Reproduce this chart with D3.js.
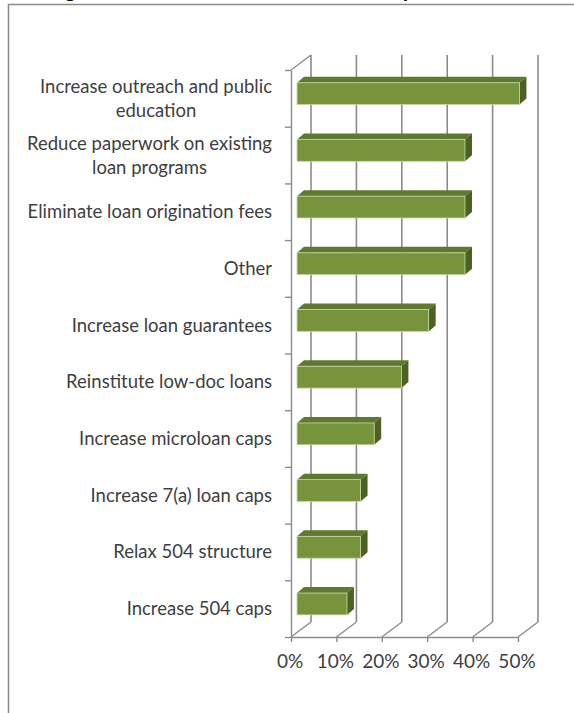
<!DOCTYPE html>
<html>
<head>
<meta charset="utf-8">
<script src="https://cdn.jsdelivr.net/npm/d3@7"></script>
<style>
  html, body { margin: 0; padding: 0; background: #ffffff; }
  svg { display: block; }
  text { font-family: Lato, "Open Sans", sans-serif; fill: #404040; }
</style>
</head>
<body>
<script>
// Survey answers: changes respondents would like to see in SBA lending
const categories = [
  "Increase outreach and public education",
  "Reduce paperwork on existing loan programs",
  "Eliminate loan origination fees",
  "Other",
  "Increase loan guarantees",
  "Reinstitute low-doc loans",
  "Increase microloan caps",
  "Increase 7(a) loan caps",
  "Relax 504 structure",
  "Increase 504 caps"
];
// How each label wraps onto lines
const labelLines = [
  ["Increase outreach and public", "education"],
  ["Reduce paperwork on existing", "loan programs"],
  ["Eliminate loan origination fees"],
  ["Other"],
  ["Increase loan guarantees"],
  ["Reinstitute low-doc loans"],
  ["Increase microloan caps"],
  ["Increase 7(a) loan caps"],
  ["Relax 504 structure"],
  ["Increase 504 caps"]
];
// Share of respondents, percent
const values = [49, 37, 37, 37, 29, 23, 17, 14, 14, 11];
const tickValues = [0, 10, 20, 30, 40, 50];
const titleText = "Changes That Would Boost Bank Participation in SBA Lending";

const W = 574, H = 713;
const svg = d3.select("body").append("svg").attr("width", W).attr("height", H);

// frame around the chart area
svg.append("rect")
  .attr("x", 8.5).attr("y", 4.5).attr("width", 700).attr("height", 800)
  .attr("fill", "none").attr("stroke", "#8a8a8a").attr("stroke-width", 1.5);

// title sits mostly above the visible page
svg.append("text")
  .attr("x", 14).attr("y", -3)
  .style("font-weight", "bold").style("font-size", "22px").style("fill", "#000")
  .text(titleText);

// geometry of the 3-D box
const plotTop = 70, plotBottom = 637;
const depthDx = 20, depthDy = -15;       // front-to-back wall offset
const barShift = 6;                       // bars sit a little behind the front plane
const barDx = 7, barDy = -6;              // thickness of each bar

const x = d3.scaleLinear().domain([0, 50]).range([291, 518]);
const y = d3.scaleBand().domain(categories).range([plotTop, plotBottom]).padding(0);
const bw = y.bandwidth();
const yIdx = d3.scaleLinear().domain([0, categories.length]).range([plotTop, plotBottom]);

const gridColor = "#8c8c8c";

// back wall gridlines
svg.append("g").selectAll("line.grid").data(tickValues).join("line")
  .attr("x1", d => x(d) + depthDx).attr("x2", d => x(d) + depthDx)
  .attr("y1", plotTop + depthDy).attr("y2", plotBottom + depthDy)
  .attr("stroke", gridColor).attr("stroke-width", 1.6);

// floor depth lines
svg.append("g").selectAll("line.floor").data(tickValues).join("line")
  .attr("x1", d => x(d)).attr("x2", d => x(d) + depthDx)
  .attr("y1", plotBottom).attr("y2", plotBottom + depthDy)
  .attr("stroke", gridColor).attr("stroke-width", 1.4);

// top edge of the side wall
svg.append("line")
  .attr("x1", x(0)).attr("x2", x(0) + depthDx)
  .attr("y1", plotTop).attr("y2", plotTop + depthDy)
  .attr("stroke", gridColor).attr("stroke-width", 1.4);

// bars
const bars = svg.append("g").selectAll("g").data(categories).join("g");
const faceTop = c => y(c) + bw * 0.225;
const faceH = bw * 0.385;
const x0 = x(0) + barShift;
const xEnd = (i) => x(values[i]) + barShift;

bars.append("path") // top face
  .attr("d", (c, i) => {
    const t = faceTop(c), e = xEnd(i);
    return `M${x0},${t} L${x0 + barDx},${t + barDy} L${e + barDx},${t + barDy} L${e},${t} Z`;
  })
  .attr("fill", "#5f7a30");

bars.append("path") // side face
  .attr("d", (c, i) => {
    const t = faceTop(c), e = xEnd(i);
    return `M${e},${t} L${e + barDx},${t + barDy} L${e + barDx},${t + barDy + faceH} L${e},${t + faceH} Z`;
  })
  .attr("fill", "#4c6124");

bars.append("rect") // front face
  .attr("x", x0).attr("y", c => faceTop(c))
  .attr("width", (c, i) => xEnd(i) - x0).attr("height", faceH)
  .attr("fill", "#77933c").attr("stroke", "#c9d8a6").attr("stroke-width", 0.8);

// category axis on the front plane
const yAxis = svg.append("g").attr("transform", `translate(${x(0)},0)`)
  .call(d3.axisLeft(yIdx).tickValues(d3.range(categories.length + 1)).tickFormat("").tickSize(6).tickSizeOuter(0));
yAxis.selectAll("path, line").attr("stroke", gridColor).attr("stroke-width", 1.4);

// value axis along the front edge of the floor
const xAxis = svg.append("g").attr("transform", `translate(0,${plotBottom})`)
  .call(d3.axisBottom(x).tickValues(tickValues).tickFormat(d => d + "%").tickSize(5).tickSizeOuter(0).tickPadding(13));
xAxis.selectAll("path, line").attr("stroke", gridColor).attr("stroke-width", 1.4);
xAxis.selectAll("text")
  .attr("dx", -1.5)
  .style("font-size", "19px").style("font-family", "Lato, 'Open Sans', sans-serif").attr("fill", "#404040");

// category labels, right-aligned block with centred lines
const labelRight = 272, lineGap = 24;
const labels = svg.append("g").selectAll("g").data(categories).join("g");
labels.each(function (c, i) {
  const g = d3.select(this);
  const lines = labelLines[i];
  const cy = y(c) + bw / 2;
  const texts = lines.map((ln, k) => g.append("text")
    .attr("y", cy + (k - (lines.length - 1) / 2) * lineGap)
    .attr("dy", "0.35em")
    .style("font-size", "18.5px")
    .text(ln));
  const maxW = d3.max(texts, t => t.node().getComputedTextLength());
  texts.forEach(t => t.attr("x", labelRight - maxW / 2).attr("text-anchor", "middle"));
});
</script>
</body>
</html>
